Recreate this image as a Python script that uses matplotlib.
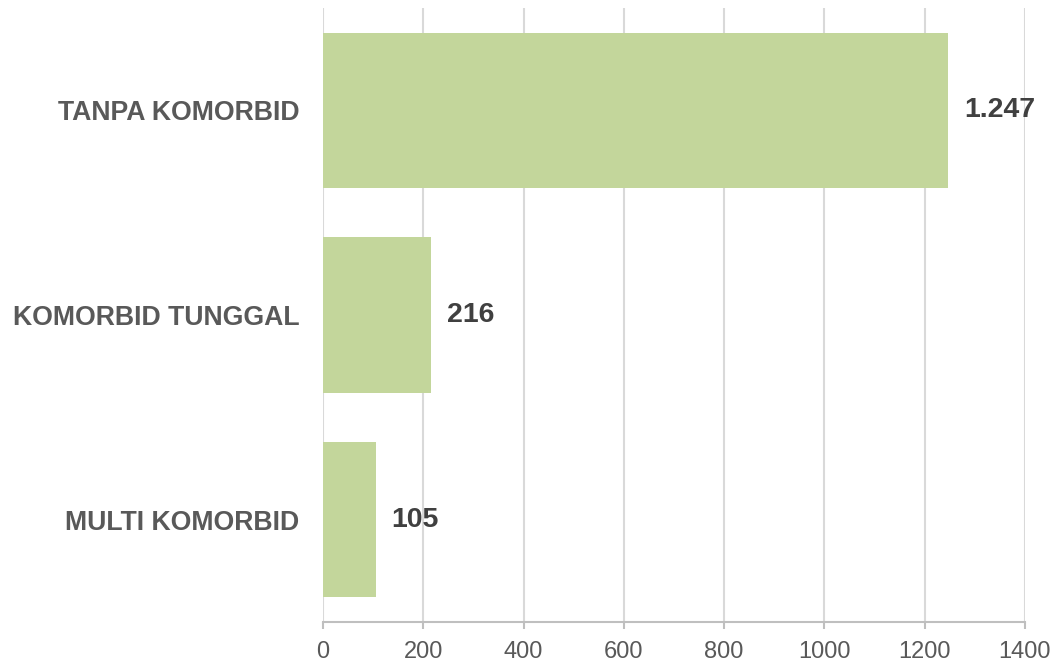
import matplotlib
matplotlib.use("Agg")
import matplotlib.pyplot as plt

categories = ["TANPA KOMORBID", "KOMORBID TUNGGAL", "MULTI KOMORBID"]
values = [1247, 216, 105]
value_labels = ["1.247", "216", "105"]
xticks = [0, 200, 400, 600, 800, 1000, 1200, 1400]

plt.rcParams['font.family'] = ['Liberation Sans', 'DejaVu Sans']

fig = plt.figure(figsize=(10.55, 6.64), dpi=100)
ax = fig.add_axes([323/1055, 1-622/664, (1025-323)/1055, (622-8)/664])

y = list(range(len(categories)))
ax.barh(y, values, height=0.76, color="#C3D69B", zorder=3)
ax.set_ylim(len(categories)-0.5, -0.5)
ax.set_xlim(0, 1400)
ax.set_xticks(xticks)
ax.set_xticklabels([str(t) for t in xticks], fontsize=17, color="#595959")
ax.set_yticks(y)
ax.set_yticklabels(categories, fontsize=19.2, fontweight="bold", color="#595959")

ax.xaxis.grid(True, color="#D9D9D9", linewidth=1.5, zorder=0)
ax.yaxis.grid(False)
for s in ["top", "right", "left"]:
    ax.spines[s].set_visible(False)
ax.spines["bottom"].set_color("#BFBFBF")
ax.spines["bottom"].set_linewidth(1.5)
ax.tick_params(axis="x", length=5, width=1.5, color="#BFBFBF", pad=9)
ax.tick_params(axis="y", length=0, pad=17)

for yi, v, lab in zip(y, values, value_labels):
    ax.annotate(lab, xy=(v, yi), xytext=(16, 0), textcoords="offset pixels",
                ha="left", va="center", fontsize=20.5, fontweight="bold", color="#404040")

fig.savefig("out.png", dpi=100)
